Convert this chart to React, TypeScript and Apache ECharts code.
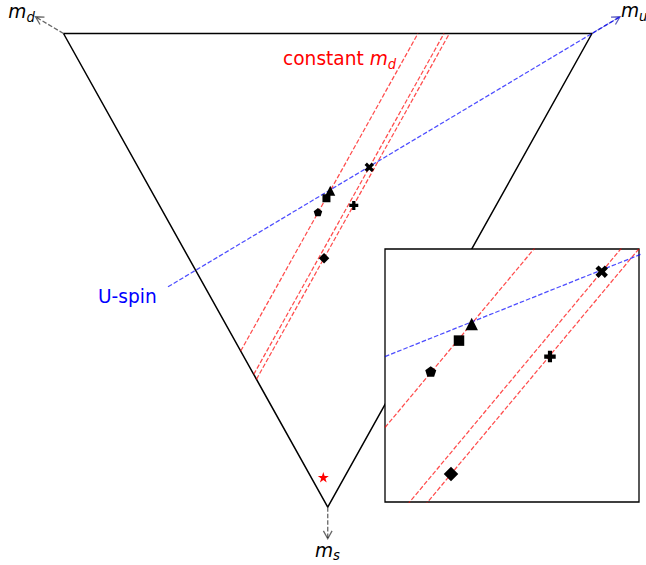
import React, { useEffect, useRef } from "react";
import * as echarts from "echarts";

// ---- Data (ternary plot coordinates: m_d=(-1,0), m_u=(1,0), m_s=(0,-1.732)) ----
const triangleX = [-1, 1, 0, -1];
const triangleY = [0, 0, -1.732, 0];

// constant m_d lines: [x0, y0, x1, y1]
const constMdLines = [
  [-0.3293, -1.1613, 0.3415, 0],
  [-0.28, -1.247, 0.44, 0],
  [-0.2698, -1.2649, 0.4605, 0],
];

// U-spin line: [x0, y0, x1, y1]
const uSpinLine = [-0.6045, -0.9265, 1.106, 0.0612];

// corner arrows: [fromX, fromY, toX, toY]
const cornerArrows = [
  [-1, 0, -1.106, 0.0612],
  [1, 0, 1.106, 0.0612],
  [0, -1.732, 0, -1.848],
];

// measured points
const pointNames = ["triangle", "square", "pentagon", "X", "plus", "diamond"];
const pointX = [0.0095, -0.0049, -0.037, 0.1573, 0.0985, -0.014];
const pointY = [-0.5752, -0.6026, -0.6535, -0.4894, -0.6288, -0.8217];
const starPoint = [-0.0168, -1.623];

// annotations: anchor (left, baseline), plain prefix, italic symbol, subscript
const annX = [-1.2089, 1.1097, -0.0483, -0.1693, -0.8694];
const annY = [0.0556, 0.0593, -1.9137, -0.1152, -0.9857];
const annPrefix = ["", "", "", "constant ", "U-spin"];
const annItalic = ["m", "m", "m", "m", ""];
const annSub = ["d", "u", "s", "d", ""];

// ---- Styles ----
const FONT = "DejaVu Sans";
const RED = "rgba(255,0,0,0.7)";
const BLUE = "rgba(0,0,255,0.7)";
const GREY = "rgba(0,0,0,0.6)";
const annColors = ["#000", "#000", "#000", "#ff0000", "#0000ff"];
const arrowColors = [GREY, "rgba(40,40,170,0.75)", GREY];

const PENTAGON = "path://M0,-1L0.951,-0.309L0.588,0.809L-0.588,0.809L-0.951,-0.309Z";
const PLUS =
  "path://M-1,-0.36L-0.36,-0.36L-0.36,-1L0.36,-1L0.36,-0.36L1,-0.36L1,0.36L0.36,0.36L0.36,1L-0.36,1L-0.36,0.36L-1,0.36Z";
const XMARK =
  "path://M-1,-0.5L-0.5,-1L0,-0.5L0.5,-1L1,-0.5L0.5,0L1,0.5L0.5,1L0,0.5L-0.5,1L-1,0.5L-0.5,0Z";
const STAR =
  "path://M0,-1L0.2245,-0.309L0.951,-0.309L0.3633,0.118L0.588,0.809L0,0.382L-0.588,0.809L-0.3633,0.118L-0.951,-0.309L-0.2245,-0.309Z";
const symbolFor: Record<string, string> = {
  triangle: "triangle",
  square: "rect",
  pentagon: PENTAGON,
  X: XMARK,
  plus: PLUS,
  diamond: "diamond",
};
const mainSize: Record<string, number> = { triangle: 10, square: 8, pentagon: 8.5, X: 9.5, plus: 9, diamond: 10.5 };
const insetSize: Record<string, number> = { triangle: 12.5, square: 10.5, pentagon: 11, X: 12.5, plus: 11.5, diamond: 14.5 };

function dashed(color: string, xi: number, z: number, pts: number[], name: string) {
  return {
    name,
    type: "line",
    xAxisIndex: xi,
    yAxisIndex: xi,
    z,
    clip: true,
    symbol: "none",
    silent: true,
    data: [
      [pts[0], pts[1]],
      [pts[2], pts[3]],
    ],
    lineStyle: { color, width: 1.25, type: [4.6, 2] },
  };
}

function markerSeries(xi: number, z: number, sizes: Record<string, number>) {
  return {
    type: "scatter",
    xAxisIndex: xi,
    yAxisIndex: xi,
    z,
    clip: true,
    silent: true,
    data: pointNames.map((n, i) => ({
      value: [pointX[i], pointY[i]],
      symbol: symbolFor[n],
      symbolSize: sizes[n],
      symbolKeepAspect: true,
    })),
    itemStyle: { color: "#000", opacity: 1 },
  };
}

export default function App() {
  const ref = useRef<HTMLDivElement>(null);
  useEffect(() => {
    if (!ref.current) return;
    const chart = echarts.init(ref.current, null, { renderer: "svg" });
    const series: any[] = [];
    // main triangle
    series.push({
      type: "line",
      z: 2,
      symbol: "none",
      silent: true,
      data: triangleX.map((x, i) => [x, triangleY[i]]),
      lineStyle: { color: "#000", width: 1.5 },
    });
    constMdLines.forEach((l, i) => series.push(dashed(RED, 0, 2, l, "md" + i)));
    // corner arrows
    series.push({
      type: "custom",
      z: 2,
      silent: true,
      data: cornerArrows,
      encode: { x: [0, 2], y: [1, 3] },
      renderItem: (params: any, api: any) => {
        const p0 = api.coord([api.value(0), api.value(1)]);
        const p1 = api.coord([api.value(2), api.value(3)]);
        const ang = Math.atan2(p1[1] - p0[1], p1[0] - p0[0]);
        const hl = 9;
        const ha = 0.5;
        const c = arrowColors[params.dataIndex];
        const a1 = ang + Math.PI - ha;
        const a2 = ang + Math.PI + ha;
        return {
          type: "group",
          children: [
            {
              type: "line",
              shape: { x1: p0[0], y1: p0[1], x2: p1[0], y2: p1[1] },
              style: { stroke: c, lineWidth: 1.3, lineDash: [4.6, 2] },
            },
            {
              type: "polyline",
              shape: {
                points: [
                  [p1[0] + hl * Math.cos(a1), p1[1] + hl * Math.sin(a1)],
                  [p1[0], p1[1]],
                  [p1[0] + hl * Math.cos(a2), p1[1] + hl * Math.sin(a2)],
                ],
              },
              style: { stroke: c, fill: null, lineWidth: 1.3 },
            },
          ],
        };
      },
    });
    series.push(dashed(BLUE, 0, 3, uSpinLine, "uspin"));
    series.push(markerSeries(0, 3, mainSize));
    series.push({
      type: "scatter",
      z: 3,
      silent: true,
      data: [{ value: starPoint, symbol: STAR, symbolSize: 11, symbolKeepAspect: true }],
      itemStyle: { color: "#ff0000", opacity: 1 },
    });
    // annotations
    series.push({
      type: "custom",
      z: 3,
      silent: true,
      data: annX.map((x, i) => [x, annY[i]]),
      renderItem: (params: any, api: any) => {
        const i = params.dataIndex;
        const p = api.coord([api.value(0), api.value(1)]);
        let txt = "";
        if (annPrefix[i]) txt += "{p|" + annPrefix[i] + "}";
        if (annItalic[i]) txt += "{m|" + annItalic[i] + "}";
        if (annSub[i]) txt += "{s|" + annSub[i] + "}";
        const col = annColors[i];
        return {
          type: "text",
          x: p[0],
          y: p[1] - 18.4,
          style: {
            text: txt,
            align: "left",
            verticalAlign: "top",
            rich: {
              p: { fontFamily: FONT, fontSize: 18.6, lineHeight: 24, fill: col, verticalAlign: "middle" },
              m: { fontFamily: FONT, fontSize: 18.6, lineHeight: 24, fill: col, fontStyle: "italic", verticalAlign: "middle" },
              s: { fontFamily: FONT, fontSize: 13.2, lineHeight: 14, fill: col, fontStyle: "italic", verticalAlign: "bottom" },
            },
          },
        };
      },
    });
    // inset
    constMdLines.forEach((l, i) => series.push(dashed(RED, 1, 10, l, "imd" + i)));
    series.push(dashed(BLUE, 1, 11, uSpinLine, "iuspin"));
    series.push(markerSeries(1, 12, insetSize));

    chart.setOption({
      animation: false,
      backgroundColor: "#fff",
      grid: [
        { left: 0, top: 0, width: 646, height: 565, z: 0 },
        {
          left: 385,
          top: 249,
          width: 254,
          height: 253,
          show: true,
          backgroundColor: "#fff",
          borderColor: "#000",
          borderWidth: 1.3,
          z: 8,
        },
      ],
      xAxis: [
        { type: "value", gridIndex: 0, min: -1.2403, max: 1.2044, show: false },
        { type: "value", gridIndex: 1, min: -0.089, max: 0.1997, show: false },
      ],
      yAxis: [
        { type: "value", gridIndex: 0, min: -1.94404, max: 0.12253, show: false },
        { type: "value", gridIndex: 1, min: -0.8676, max: -0.4522, show: false },
      ],
      series,
    });
    return () => chart.dispose();
  }, []);
  return (
    <div
      ref={ref}
      style={{ position: "absolute", left: 0, top: 0, width: 646, height: 565 }}
    />
  );
}
